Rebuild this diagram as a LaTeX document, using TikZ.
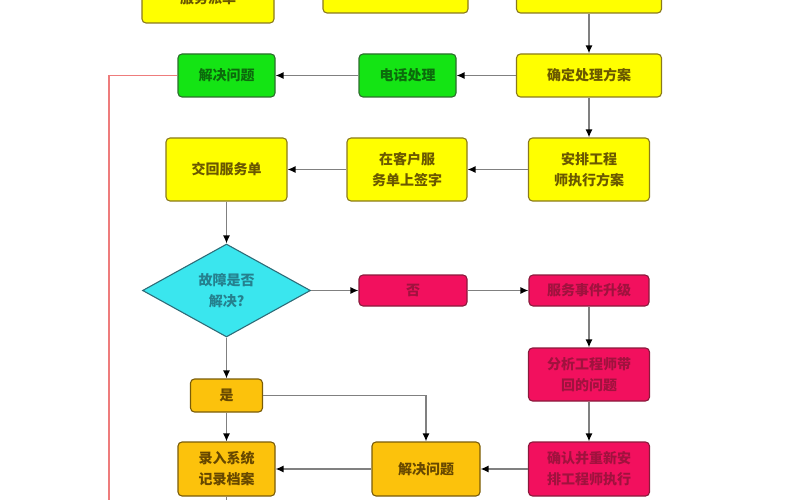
\documentclass[tikz,border=0pt]{standalone}
\usepackage{fontspec}
\newfontfamily\cjk{Noto Sans CJK SC}
\usepackage{xcolor}
\usetikzlibrary{
	arrows.meta,
	calc,
	positioning,
	shapes.geometric,
	}

\definecolor{yfill}{HTML}{FFFF00}
\definecolor{yline}{HTML}{8A7A1C}
\definecolor{ytext}{HTML}{6A5800}
\definecolor{gfill}{HTML}{14E414}
\definecolor{gline}{HTML}{2C6E2C}
\definecolor{gtext}{HTML}{0C6A0C}
\definecolor{cfill}{HTML}{3AE6EE}
\definecolor{cline}{HTML}{2E6C78}
\definecolor{ctext}{HTML}{25808E}
\definecolor{pfill}{HTML}{F2105E}
\definecolor{pline}{HTML}{8A1A3C}
\definecolor{ptext}{HTML}{A0123E}
\definecolor{ofill}{HTML}{FCC20C}
\definecolor{oline}{HTML}{7A5C08}
\definecolor{otext}{HTML}{674800}
\definecolor{flowgray}{HTML}{808080}
\definecolor{redline}{HTML}{EE7C7C}

\tikzset{
	box/.style={draw, rounded corners=4pt, line width=1.1pt, align=center, inner sep=0pt,
		font=\cjk\bfseries\fontsize{14}{21}\selectfont},
	ybox/.style={box, fill=yfill, draw=yline, text=ytext},
	gbox/.style={box, fill=gfill, draw=gline, text=gtext},
	pbox/.style={box, fill=pfill, draw=pline, text=ptext},
	obox/.style={box, fill=ofill, draw=oline, text=otext},
	flow/.style={draw=flowgray, line width=1.4pt, -{Latex[length=8pt,width=7pt,color=black]}},
}

\begin{document}
\begin{tikzpicture}[x=1pt, y=-1pt]
			\useasboundingbox (0,0) rectangle (800,500);
			\clip (0,0) rectangle (800,500);
			\node[ybox, minimum width=132pt, minimum height=50pt] (paidan) at (208,-2) {服务派单};
			\node[ybox, minimum width=145pt, minimum height=45pt] (top2) at (395.5,-9.5) {};
			\node[ybox, minimum width=145pt, minimum height=45pt] (top3) at (589,-9.5) {};
			\node[gbox, minimum width=97pt, minimum height=43pt] (jiejue1) at (226.5,75.5) {解决问题};
			\node[gbox, minimum width=97pt, minimum height=43pt] (dianhua) at (407.5,75.5) {电话处理};
			\node[ybox, minimum width=145pt, minimum height=43pt] (queding) at (589,75.5) {确定处理方案};
			\node[ybox, minimum width=121pt, minimum height=63pt] (jiaohui) at (226.5,169.5) {交回服务单};
			\node[ybox, minimum width=120pt, minimum height=63pt] (qianzi) at (407,169.5) {在客户服\\务单上签字};
			\node[ybox, minimum width=121pt, minimum height=63pt] (anpai) at (589,169.5) {安排工程\\师执行方案};
			\node[diamond, draw=cline, fill=cfill, text=ctext, line width=1.1pt, inner sep=0pt,
				minimum width=168pt, minimum height=93pt, align=center,
				font=\cjk\bfseries\fontsize{14}{21}\selectfont] (guzhang) at (226.5,290.5) {故障是否\\解决?};
			\node[pbox, minimum width=108pt, minimum height=31pt] (fou) at (413,290.5) {否};
			\node[pbox, minimum width=120pt, minimum height=31pt] (shengji) at (589,290.5) {服务事件升级};
			\node[pbox, minimum width=121pt, minimum height=53pt] (fenxi) at (589,374.5) {分析工程师带\\回的问题};
			\node[obox, minimum width=72pt, minimum height=33pt] (shi) at (226.5,395.5) {是};
			\node[obox, minimum width=97pt, minimum height=54pt] (luru) at (226.5,469) {录入系统\\记录档案};
			\node[obox, minimum width=108pt, minimum height=54pt] (jiejue2) at (426,469) {解决问题};
			\node[pbox, minimum width=121pt, minimum height=54pt] (queren) at (589,469) {确认并重新安\\排工程师执行};
			\coordinate (luruend) at (226.5,500);
			\coordinate (redend) at (109,500);
			\draw[flow] (top3) -- (queding);
			\draw[flow] (queding) -- (dianhua);
			\draw[flow] (dianhua) -- (jiejue1);
			\draw[flow] (queding) -- (anpai);
			\draw[flow] (anpai) -- (qianzi);
			\draw[flow] (qianzi) -- (jiaohui);
			\draw[flow] (jiaohui) -- (guzhang);
			\draw[flow] (guzhang) -- (fou);
			\draw[flow] (fou) -- (shengji);
			\draw[flow] (shengji) -- (fenxi);
			\draw[flow] (fenxi) -- (queren);
			\draw[flow] (guzhang) -- (shi);
			\draw[flow] (shi) -- (luru);
			\draw[flow] (shi.east) -| (jiejue2.north);
			\draw[flow] (queren) -- (jiejue2);
			\draw[flow] (jiejue2) -- (luru);
			\draw[draw=flowgray, line width=1.4pt] (luru) -- (luruend);
			\draw[draw=redline, line width=1.3pt] (jiejue1.west) -| (redend);
		\end{tikzpicture}
\end{document}
